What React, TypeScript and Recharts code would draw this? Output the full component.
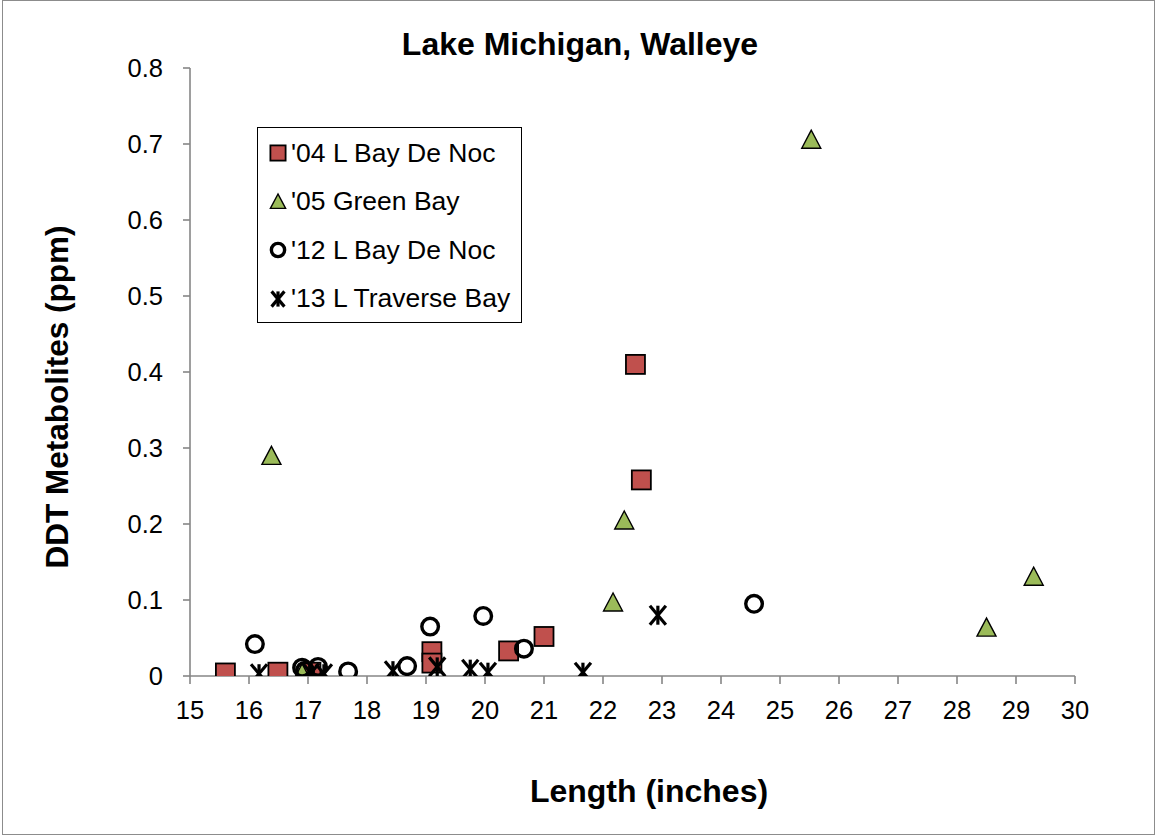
import React from "react";
import {
  ScatterChart,
  Scatter,
  XAxis,
  YAxis,
  Legend,
  Label,
} from "recharts";

const FONT = "'Liberation Sans', Arial, Helvetica, sans-serif";
const AXIS_GRAY = "#868686";
const RED = "#C0504D";
const GREEN = "#9BBB59";

const X_TICKS = [15, 16, 17, 18, 19, 20, 21, 22, 23, 24, 25, 26, 27, 28, 29, 30];
const Y_TICKS = [0, 0.1, 0.2, 0.3, 0.4, 0.5, 0.6, 0.7, 0.8];

// '04 L Bay De Noc
const BDN04_LENGTH = [15.6, 16.49, 17.05, 19.1, 19.1, 20.4, 21.0, 22.55, 22.65];
const BDN04_DDT = [0.004, 0.005, 0.005, 0.032, 0.017, 0.033, 0.052, 0.41, 0.258];

// '05 Green Bay
const GB05_LENGTH = [16.38, 16.9, 22.17, 22.36, 25.53, 28.5, 29.3];
const GB05_DDT = [0.289, 0.003, 0.096, 0.204, 0.705, 0.063, 0.13];

// '12 L Bay De Noc
const BDN12_LENGTH = [16.1, 16.9, 16.95, 17.17, 17.68, 18.68, 19.07, 19.97, 20.66, 24.56];
const BDN12_DDT = [0.042, 0.011, 0.007, 0.012, 0.006, 0.013, 0.065, 0.079, 0.036, 0.095];

// '13 L Traverse Bay
const LTB13_LENGTH = [16.17, 17.05, 17.27, 18.44, 19.19, 19.75, 20.05, 21.66, 22.93];
const LTB13_DDT = [0.003, 0.004, 0.003, 0.007, 0.012, 0.009, 0.005, 0.005, 0.08];

const toPoints = (xs: number[], ys: number[]) =>
  xs.map((x, i) => ({ length: x, ddt: ys[i] }));

type MarkerKind = "square" | "triangle" | "circle" | "asterisk";

function Marker({ kind, cx, cy, s = 1 }: { kind: MarkerKind; cx: number; cy: number; s?: number }) {
  if (kind === "square") {
    const h = 9.5 * s;
    return (
      <rect x={cx - h} y={cy - h} width={h * 2} height={h * 2} fill={RED} stroke="#000" strokeWidth={1.8} />
    );
  }
  if (kind === "triangle") {
    const pts = `${cx},${cy - 10 * s} ${cx - 9.5 * s},${cy + 8 * s} ${cx + 9.5 * s},${cy + 8 * s}`;
    return <polygon points={pts} fill={GREEN} stroke="#000" strokeWidth={1.4} />;
  }
  if (kind === "circle") {
    return <circle cx={cx} cy={cy} r={8.3 * s} fill="none" stroke="#000" strokeWidth={3.4} />;
  }
  const w = 8 * s;
  const h = 9.5 * s;
  return (
    <g stroke="#000" strokeWidth={3.2}>
      <line x1={cx - w} y1={cy - h} x2={cx + w} y2={cy + h} />
      <line x1={cx - w} y1={cy + h} x2={cx + w} y2={cy - h} />
      <line x1={cx} y1={cy - h} x2={cx} y2={cy + h} />
    </g>
  );
}

const SERIES: { name: string; kind: MarkerKind; data: { length: number; ddt: number }[] }[] = [
  { name: "'04 L Bay De Noc", kind: "square", data: toPoints(BDN04_LENGTH, BDN04_DDT) },
  { name: "'05 Green Bay", kind: "triangle", data: toPoints(GB05_LENGTH, GB05_DDT) },
  { name: "'12 L Bay De Noc", kind: "circle", data: toPoints(BDN12_LENGTH, BDN12_DDT) },
  { name: "'13 L Traverse Bay", kind: "asterisk", data: toPoints(LTB13_LENGTH, LTB13_DDT) },
];

function LegendBox() {
  return (
    <div
      style={{
        boxSizing: "border-box",
        width: 265,
        height: 196,
        border: "1.5px solid #000",
        background: "#fff",
        padding: "1px 0 0 0",
        fontFamily: FONT,
        fontSize: 26.5,
        color: "#000",
        textAlign: "left",
      }}
    >
      {SERIES.map((s) => (
        <div
          key={s.name}
          style={{ height: 48.5, display: "flex", alignItems: "center", whiteSpace: "nowrap" }}
        >
          <svg width={33} height={24} style={{ flex: "none" }}>
            <Marker kind={s.kind} cx={20} cy={12} s={0.8} />
          </svg>
          <span>{s.name}</span>
        </div>
      ))}
    </div>
  );
}

export default function App() {
  return (
    <div
      style={{
        position: "absolute",
        left: 0,
        top: 0,
        width: 1156,
        height: 835,
        background: "#fff",
        fontFamily: FONT,
      }}
    >
      <ScatterChart
        width={1156}
        height={835}
        margin={{ top: 68, right: 81, left: 0, bottom: 0 }}
      >
        <XAxis
          type="number"
          dataKey="length"
          domain={[15, 30]}
          ticks={X_TICKS}
          interval={0}
          height={159}
          allowDataOverflow
          axisLine={{ stroke: AXIS_GRAY, strokeWidth: 1.6 }}
          tickLine={{ stroke: AXIS_GRAY, strokeWidth: 1.6 }}
          tickSize={8}
          tickMargin={17}
          tick={{ fontSize: 25.5, fill: "#000", fontFamily: FONT }}
        >
          <Label
            content={() => (
              <text
                x={649}
                y={802}
                textAnchor="middle"
                fontFamily={FONT}
                fontWeight="bold"
                fontSize={32}
                fill="#000"
              >
                Length (inches)
              </text>
            )}
          />
        </XAxis>
        <YAxis
          type="number"
          dataKey="ddt"
          domain={[0, 0.8]}
          ticks={Y_TICKS}
          interval={0}
          width={190}
          allowDataOverflow
          axisLine={{ stroke: AXIS_GRAY, strokeWidth: 1.6 }}
          tickLine={{ stroke: AXIS_GRAY, strokeWidth: 1.6 }}
          tickSize={7}
          tickMargin={20}
          tick={{ fontSize: 25.5, fill: "#000", fontFamily: FONT }}
        >
          <Label
            content={() => (
              <text
                x={0}
                y={0}
                transform="translate(68, 397) rotate(-90)"
                textAnchor="middle"
                fontFamily={FONT}
                fontWeight="bold"
                fontSize={31.5}
                fill="#000"
              >
                DDT Metabolites (ppm)
              </text>
            )}
          />
        </YAxis>
        <Legend
          layout="horizontal"
          verticalAlign="middle"
          align="center"
          content={() => <LegendBox />}
          wrapperStyle={{ position: "absolute", left: 257, top: 127, width: 265, height: 196 }}
        />
        {SERIES.map((s) => (
          <Scatter
            key={s.name}
            name={s.name}
            data={s.data}
            isAnimationActive={false}
            shape={(p: any) => <Marker kind={s.kind} cx={p.cx} cy={p.cy} />}
          />
        ))}
      </ScatterChart>
      <svg
        width={1156}
        height={835}
        style={{ position: "absolute", left: 0, top: 0, pointerEvents: "none" }}
      >
        <rect x={2.5} y={0.5} width={1152} height={834} fill="none" stroke="#8c8c8c" strokeWidth={1} />
        <text
          x={580}
          y={55}
          textAnchor="middle"
          fontFamily={FONT}
          fontWeight="bold"
          fontSize={32}
          fill="#000"
        >
          Lake Michigan, Walleye
        </text>
      </svg>
    </div>
  );
}
